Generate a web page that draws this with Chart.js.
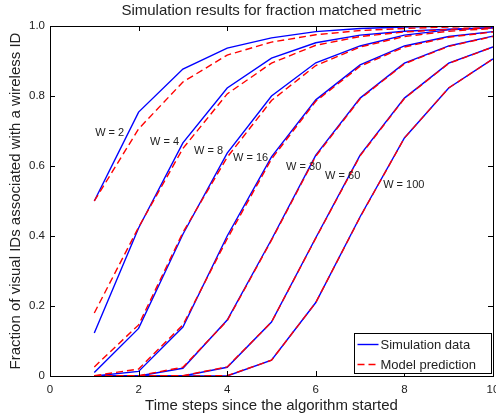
<!DOCTYPE html>
<html>
<head>
<meta charset="utf-8">
<script src="https://cdn.jsdelivr.net/npm/chart.js@4/dist/chart.umd.min.js"></script>
<style>
html,body{margin:0;padding:0;background:#fff;overflow:hidden}
</style>
</head>
<body>
<canvas id="chart" width="496" height="415"></canvas>
<script>

/* DATA */

const steps = [1,2,3,4,5,6,7,8,9,10];

const windowLabels = ["W = 2","W = 4","W = 8","W = 16","W = 30","W = 60","W = 100"];

const simW2   = [0.50,0.754,0.877,0.937,0.966,0.984,0.993,0.997,0.999,1.0];
const simW4   = [0.123,0.423,0.666,0.823,0.908,0.952,0.974,0.985,0.991,0.995];
const simW8   = [0.010,0.136,0.405,0.637,0.800,0.895,0.943,0.974,0.989,0.995];
const simW16  = [0.0,0.013,0.140,0.400,0.626,0.789,0.889,0.943,0.970,0.984];
const simW30  = [0.0,0.0,0.022,0.160,0.390,0.631,0.794,0.894,0.943,0.971];
const simW60  = [0.0,0.0,0.0,0.025,0.154,0.395,0.631,0.794,0.894,0.940];
const simW100 = [0.0,0.0,0.0,0.0,0.045,0.210,0.455,0.680,0.823,0.906];

const modW2   = [0.50,0.706,0.840,0.917,0.954,0.975,0.987,0.993,0.997,0.999];
const modW4   = [0.180,0.425,0.650,0.806,0.894,0.945,0.970,0.983,0.990,0.995];
const modW8   = [0.026,0.146,0.410,0.625,0.787,0.887,0.940,0.970,0.985,0.993];
const modW16  = [0.001,0.020,0.146,0.392,0.620,0.785,0.885,0.940,0.968,0.983];
const modW30  = [0.0,0.001,0.025,0.158,0.388,0.628,0.792,0.892,0.942,0.970];
const modW60  = [0.0,0.0,0.001,0.026,0.154,0.394,0.629,0.793,0.893,0.940];
const modW100 = [0.0,0.0,0.0,0.001,0.045,0.210,0.454,0.680,0.823,0.906];

const simSeries = [simW2,simW4,simW8,simW16,simW30,simW60,simW100];
const modSeries = [modW2,modW4,modW8,modW16,modW30,modW60,modW100];

/* where each W label sits, in data units (left edge, middle) */
const labelSpots = [[1.02,0.695],[2.26,0.669],[3.25,0.644],[4.13,0.624],[5.33,0.598],[6.21,0.571],[7.52,0.546]];

const FONT = "'Liberation Sans', Arial, sans-serif";
const BLUE = "#0000ff";
const RED = "#ff0000";


function points(values){
  return values.map((v,i) => ({ x: steps[i], y: v }));
}

const datasets = [];

simSeries.forEach((s,i) => {
  datasets.push({
    label: i === 0 ? "Simulation data" : "",
    data: points(s),
    borderColor: BLUE,
    borderWidth: 1.4,
    pointRadius: 0,
    fill: false,
    order: 2
  });
});

modSeries.forEach((s,i) => {
  datasets.push({
    label: i === 0 ? "Model prediction" : "",
    data: points(s),
    borderColor: RED,
    borderWidth: 1.4,
    borderDash: [7,4],
    pointRadius: 0,
    fill: false,
    order: 1
  });
});


/* frame, inward ticks, W labels, legend */

const decorations = {
  id: "decorations",
  afterDatasetsDraw(chart){
    const ctx = chart.ctx;
    const a = chart.chartArea;
    const xs = chart.scales.x;
    const ys = chart.scales.y;
    const tl = 5;

    ctx.save();
    ctx.strokeStyle = "#000";
    ctx.lineWidth = 1;

    ctx.beginPath();
    xs.ticks.forEach(t => {
      const px = Math.round(xs.getPixelForValue(t.value)) + 0.5;
      ctx.moveTo(px, a.bottom); ctx.lineTo(px, a.bottom - tl);
      ctx.moveTo(px, a.top); ctx.lineTo(px, a.top + tl);
    });
    ys.ticks.forEach(t => {
      const py = Math.round(ys.getPixelForValue(t.value)) + 0.5;
      ctx.moveTo(a.left, py); ctx.lineTo(a.left + tl, py);
      ctx.moveTo(a.right, py); ctx.lineTo(a.right - tl, py);
    });
    ctx.stroke();

    ctx.strokeRect(Math.round(a.left) + 0.5, Math.round(a.top) + 0.5,
      Math.round(a.right - a.left), Math.round(a.bottom - a.top));

    ctx.fillStyle = "#222";
    ctx.font = "11px " + FONT;
    ctx.textAlign = "left";
    ctx.textBaseline = "middle";
    windowLabels.forEach((txt,i) => {
      ctx.fillText(txt, xs.getPixelForValue(labelSpots[i][0]), ys.getPixelForValue(labelSpots[i][1]));
    });

    // legend
    const lw = 137, lh = 40;
    const lx = Math.round(a.right - 2 - lw) + 0.5;
    const ly = Math.round(a.bottom - 3 - lh) + 0.5;
    ctx.fillStyle = "#fff";
    ctx.fillRect(lx, ly, lw, lh);
    ctx.strokeStyle = "#000";
    ctx.lineWidth = 1;
    ctx.strokeRect(lx, ly, lw, lh);

    const entries = [datasets[0], datasets[simSeries.length]];
    entries.forEach((d,i) => {
      const y = ly + 11 + i * 20;
      ctx.beginPath();
      ctx.strokeStyle = d.borderColor;
      ctx.lineWidth = 1.4;
      ctx.setLineDash(d.borderDash || []);
      ctx.moveTo(lx + 3, y);
      ctx.lineTo(lx + 24, y);
      ctx.stroke();
      ctx.setLineDash([]);
      ctx.fillStyle = "#222";
      ctx.font = "13px " + FONT;
      ctx.fillText(d.label, lx + 26, y + 0.5);
    });

    ctx.restore();
  }
};


new Chart(document.getElementById("chart"),{

type: "line",

data: { datasets: datasets },

options: {
  responsive: false,
  animation: false,
  maintainAspectRatio: false,
  layout: { padding: { left: 0, right: 3, top: 0, bottom: 0 } },
  plugins: {
    legend: { display: false },
    tooltip: { enabled: false },
    title: {
      display: true,
      fullSize: false,
      text: "Simulation results for fraction matched metric",
      color: "#222",
      font: { family: FONT, size: 15, weight: "normal", lineHeight: 1.2 },
      padding: { top: 2, bottom: 6 }
    }
  },
  scales: {
    x: {
      type: "linear",
      min: 0,
      max: 10,
      grid: { display: false, drawTicks: false },
      border: { display: false },
      ticks: { stepSize: 2, padding: 7, color: "#222", font: { family: FONT, size: 11.5 }, maxRotation: 0 },
      title: {
        display: true,
        text: "Time steps since the algorithm started",
        color: "#222",
        font: { family: FONT, size: 15 },
        padding: { top: 2, bottom: 0 }
      },
      afterFit(s){ s.paddingLeft = 0; s.paddingRight = 0; s.height = 39; }
    },
    y: {
      min: 0,
      max: 1,
      grid: { display: false, drawTicks: false },
      border: { display: false },
      ticks: { stepSize: 0.2, padding: 5, color: "#222", font: { family: FONT, size: 11.5 } },
      title: {
        display: true,
        text: "Fraction of visual IDs associated with a wireless ID",
        color: "#222",
        font: { family: FONT, size: 15 },
        padding: { top: 7, bottom: 2 }
      },
      afterFit(s){ s.paddingTop = 0; s.paddingBottom = 0; s.width = 50; }
    }
  }
},

plugins: [decorations]

});

</script>
</body>
</html>
